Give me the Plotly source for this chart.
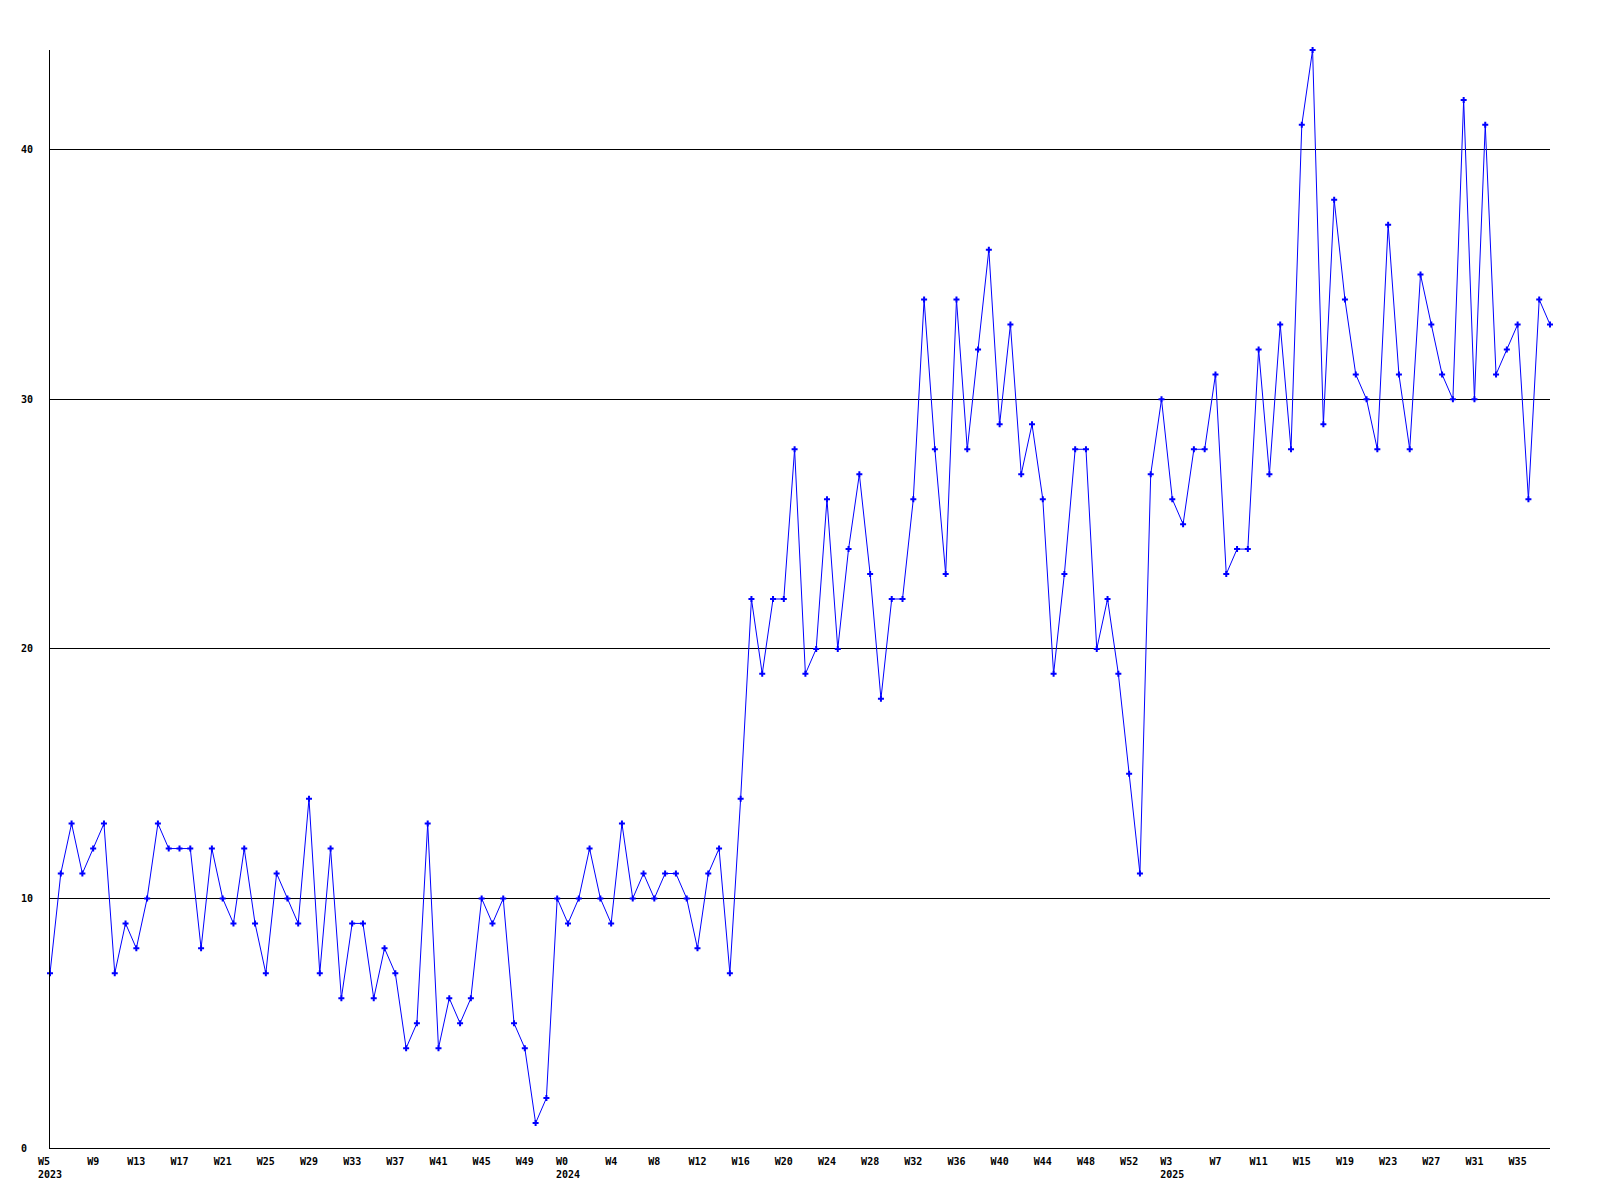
import plotly.graph_objects as go

# Weekly values, from 2023 W5 to 2025 W37 (one point per week)
values = [
    7, 11, 13, 11, 12, 13, 7, 9, 8, 10, 13, 12, 12, 12, 8, 12, 10, 9, 12, 9,
    7, 11, 10, 9, 14, 7, 12, 6, 9, 9, 6, 8, 7, 4, 5, 13,
    4, 6, 5, 6, 10, 9, 10, 5, 4, 1, 2, 10, 9, 10, 12, 10, 9, 13, 10, 11,
    10, 11, 11, 10, 8, 11, 12, 7, 14,
    22, 19, 22, 22, 28, 19, 20, 26, 20, 24, 27, 23, 18, 22, 22, 26, 34, 28,
    23, 34, 28, 32, 36, 29, 33, 27, 29, 26, 19, 23, 28, 28, 20, 22, 19, 15, 11,
    27, 30, 26, 25, 28, 28, 31, 23, 24, 24, 32, 27, 33, 28, 41, 44, 29, 38,
    34, 31, 30, 28, 37, 31, 28, 35, 33, 31, 30, 42, 30, 41, 31, 32, 33, 26, 34, 33,
]

# X tick labels, one every 4 points
week_labels = [
    "W5", "W9", "W13", "W17", "W21", "W25", "W29", "W33", "W37", "W41", "W45", "W49",
    "W0", "W4", "W8", "W12", "W16", "W20", "W24", "W28", "W32", "W36", "W40", "W44", "W48", "W52",
    "W3", "W7", "W11", "W15", "W19", "W23", "W27", "W31", "W35",
]
year_labels = {0: "2023", 12: "2024", 26: "2025"}
tick_step = 4

y_ticks = [0, 10, 20, 30, 40]
y_max = 44

x = list(range(len(values)))
tickvals = [i * tick_step for i in range(len(week_labels))]
ticktext = []
for i, w in enumerate(week_labels):
    if i in year_labels:
        pad = "\u00a0" * (len(year_labels[i]) - len(w))
        ticktext.append(w + pad + "<br>" + year_labels[i])
    else:
        ticktext.append(w)

font_family = "DejaVu Sans Mono"

fig = go.Figure()
fig.add_trace(go.Scatter(
    x=x, y=values, mode="lines+markers",
    line=dict(color="#0000ff", width=1),
    marker=dict(symbol="cross", size=5, color="#0000ff", line=dict(width=0)),
    cliponaxis=False,
    showlegend=False,
    hoverinfo="skip",
))

fig.update_layout(
    width=1584, height=1184,
    margin=dict(l=42, r=42, t=42, b=42, pad=0),
    paper_bgcolor="white", plot_bgcolor="white",
    font=dict(family=font_family, size=10, color="black"),
)
fig.update_xaxes(
    range=[0, len(values) - 1],
    tickmode="array", tickvals=tickvals, ticktext=ticktext,
    showgrid=False, zeroline=False,
    showline=True, linecolor="black", linewidth=1,
    ticks="", ticklabelstandoff=4,
    tickfont=dict(family=font_family, size=10, color="black", weight="bold"),
)
fig.update_yaxes(
    range=[0, y_max],
    tickmode="array", tickvals=y_ticks,
    ticktext=[str(v) + "\u00a0" * (2 - len(str(v))) for v in y_ticks],
    showgrid=True, gridcolor="black", gridwidth=1,
    zeroline=False,
    showline=True, linecolor="black", linewidth=1,
    ticks="", ticklabelstandoff=14,
    tickfont=dict(family=font_family, size=10, color="black", weight="bold"),
)

fig.write_html("out.html")
